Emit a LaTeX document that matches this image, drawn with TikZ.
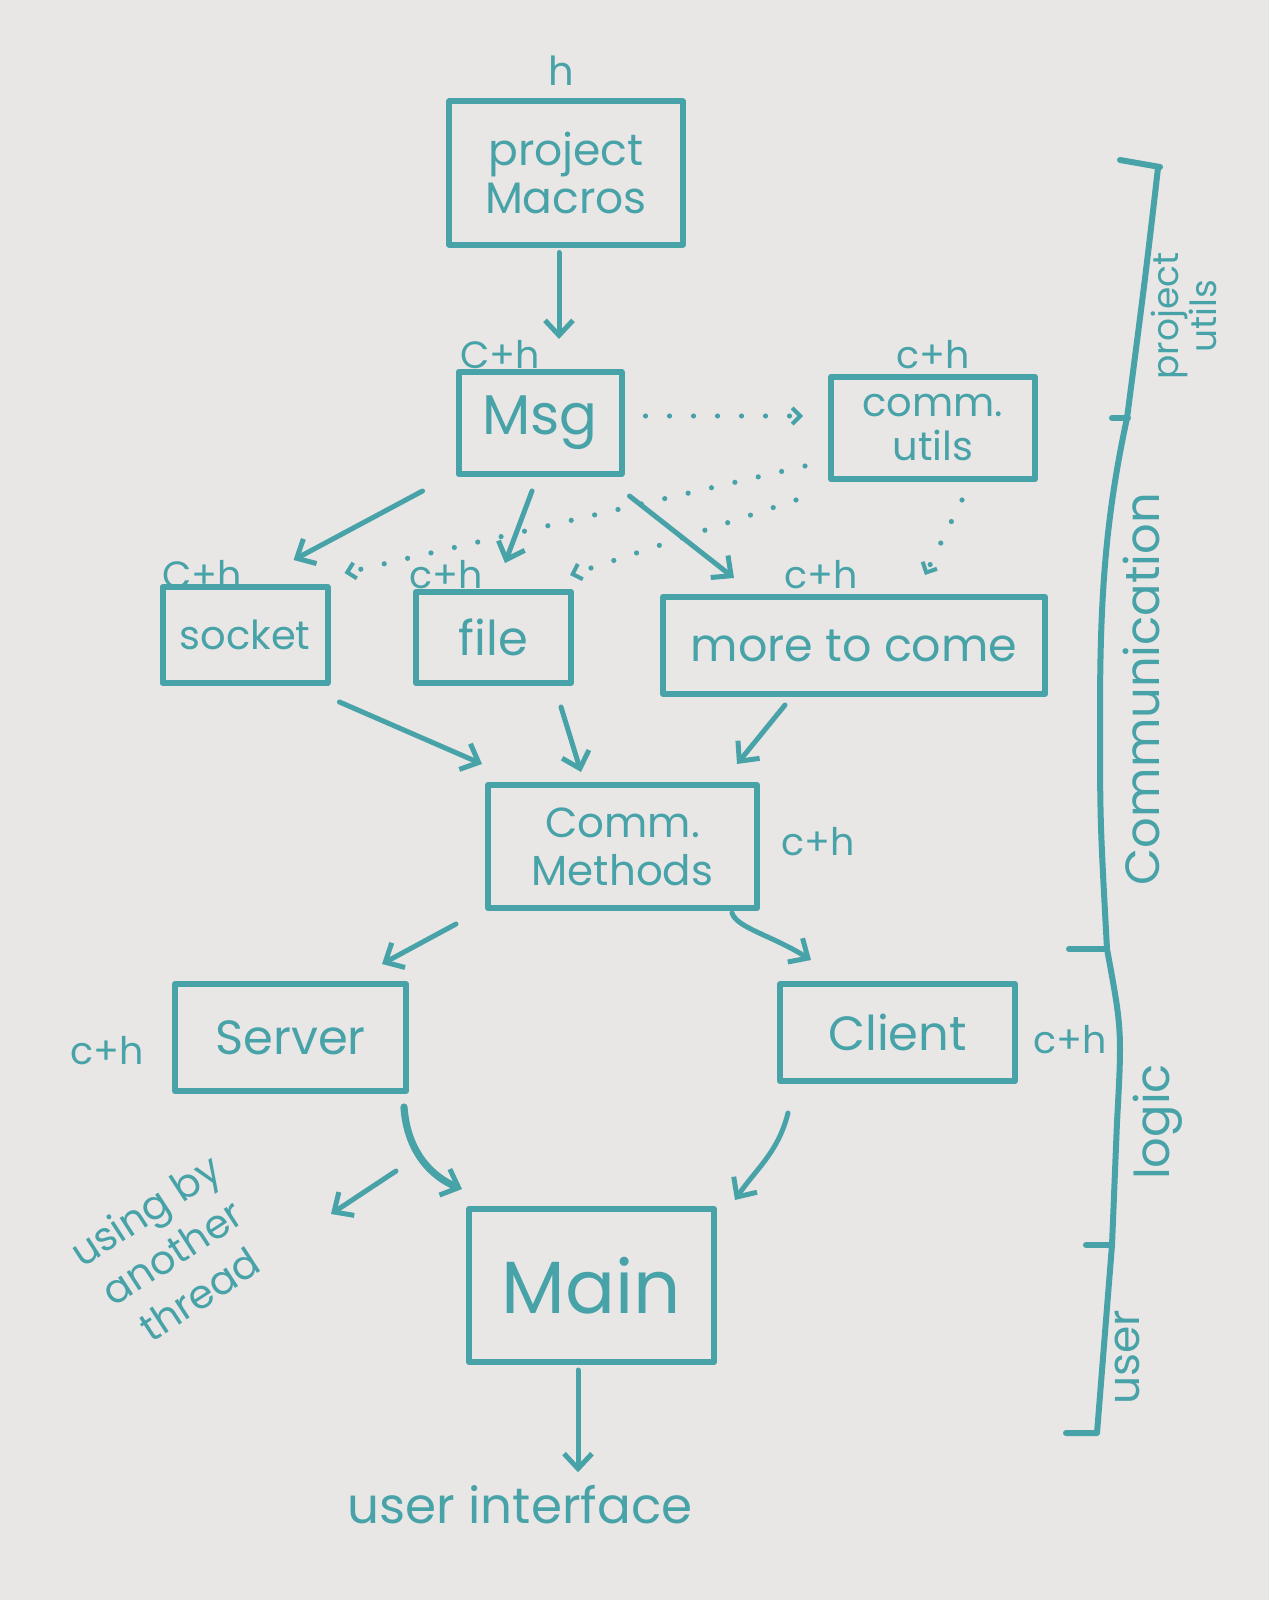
\documentclass[tikz,border=0pt]{standalone}
\usepackage{fontspec}
\setmainfont{Poppins}
\usetikzlibrary{arrows.meta}
\definecolor{ink}{RGB}{72,163,168}
\definecolor{paper}{RGB}{233,230,230}
\begin{document}
\begin{tikzpicture}[x=0.5pt,y=-0.5pt,
  box/.style={draw=ink, line width=3pt, text=ink, align=center, inner sep=0pt, line join=round, line cap=round},
  lbl/.style={text=ink, inner sep=0pt, font=\fontsize{19}{21}\selectfont},
  side/.style={text=ink, inner sep=0pt, rotate=90, align=center},
  arr/.style={draw=ink, line width=2.5pt, line cap=round, -{Straight Barb[length=7.5pt,width=14pt,line width=2.5pt]}},
  dots/.style={draw=ink, line width=2.6pt, line cap=round, dash pattern=on 0pt off 12pt, -{Straight Barb[length=4pt,width=8pt,line width=2pt]}},
]
\fill[paper] (0,0) rectangle (1269,1600);
\useasboundingbox (0,0) rectangle (1269,1600);

% boxes
\node[box, minimum width=117pt, minimum height=71.5pt, font=\fontsize{22}{24}\selectfont] (pm) at (566,173) {project\\Macros};
\node[box, minimum width=81.5pt, minimum height=51pt, font=\fontsize{28}{30}\selectfont] (msg) at (540,423) {Msg};
\node[box, minimum width=102pt, minimum height=51pt, font=\fontsize{20}{22}\selectfont] (cu) at (933,428) {comm.\\utils};
\node[box, minimum width=82.5pt, minimum height=48pt, font=\fontsize{20}{22}\selectfont] (socket) at (245,635) {socket};
\node[box, minimum width=77.5pt, minimum height=45.5pt, font=\fontsize{24}{26}\selectfont] (file) at (493.5,637.5) {file};
\node[box, minimum width=191pt, minimum height=48.5pt, font=\fontsize{23}{25}\selectfont] (mtc) at (854,645.5) {more to come};
\node[box, minimum width=134.5pt, minimum height=61.5pt, font=\fontsize{21}{24}\selectfont] (cm) at (622.5,846.5) {Comm.\\Methods};
\node[box, minimum width=115.5pt, minimum height=53.5pt, font=\fontsize{24}{26}\selectfont] (server) at (290.5,1037.5) {Server};
\node[box, minimum width=117.5pt, minimum height=48.5pt, font=\fontsize{24}{26}\selectfont] (client) at (897.5,1032.5) {Client};
\node[box, minimum width=122.5pt, minimum height=76.5pt, font=\fontsize{37}{39}\selectfont] (main) at (591.5,1285.5) {Main};

% small labels
\node[lbl, font=\fontsize{20}{22}\selectfont] (hpm) at (561,71) {h};
\node[lbl] (lmsg) at (500,355) {C+h};
\node[lbl] (lcu) at (933,355) {c+h};
\node[lbl] (lsocket) at (202,575) {C+h};
\node[lbl] (lfile) at (446,575) {c+h};
\node[lbl] (lmtc) at (821,575) {c+h};
\node[lbl] (lcm) at (818,842) {c+h};
\node[lbl] (lserver) at (107,1051) {c+h};
\node[lbl] (lclient) at (1070,1040) {c+h};
\node[text=ink, inner sep=0pt, rotate=33, align=center, font=\fontsize{20}{25}\selectfont] (thread) at (172,1252) {using by\\another\\thread};
\coordinate (thr) at (331,1214);
\node[text=ink, inner sep=0pt, font=\fontsize{25}{27}\selectfont] (ui) at (520,1505) {user interface};

% side bracket
\draw[ink, line width=3pt, line cap=round, line join=round]
  (1120,160) -- (1160,167)
  (1158,168) .. controls (1145,280) .. (1127,418)
  .. controls (1105,520) and (1100,600) .. (1100,714)
  .. controls (1100,820) .. (1107,949)
  .. controls (1122,1030) .. (1117,1122)
  -- (1112,1245) -- (1097,1433) -- (1066,1433);
\draw[ink, line width=3pt, line cap=round] (1112,418) -- (1128,418);
\draw[ink, line width=3pt, line cap=round] (1069,949) -- (1107,949);
\draw[ink, line width=3pt, line cap=round] (1086,1245) -- (1112,1245);
\node[side, font=\fontsize{18}{17}\selectfont] (sproj) at (1184,316) {project\\utils};
\node[side, font=\fontsize{24}{26}\selectfont] (scomm) at (1141,689) {Communication};
\node[side, font=\fontsize{24}{26}\selectfont] (slogic) at (1158,1122) {logic};
\node[side, font=\fontsize{22}{24}\selectfont] (suser) at (1127,1357) {user};

% solid connectors
\draw[arr] ([shift={(-7,5)}]pm.south) -- ([shift={(19,-30)}]msg.north);
\draw[arr] ([shift={(-33,14)}]msg.south west) -- ([shift={(-37,-24)}]socket.north east);
\draw[arr] ([shift={(-8,14)}]msg.south) -- ([shift={(11.5,-26)}]file.north);
\draw[arr] ([shift={(5,19)}]msg.south east) -- ([shift={(74,-16)}]mtc.north west);
\draw[arr] ([shift={(9,16)}]socket.south east) -- ([shift={(-3,-18)}]cm.north west);
\draw[arr] ([shift={(67.5,21)}]file.south) -- ([shift={(-41.5,-10)}]cm.north);
\draw[arr] ([shift={(-69,8)}]mtc.south) -- ([shift={(-23,-18)}]cm.north east);
\draw[arr] ([shift={(-29,13)}]cm.south west) -- ([shift={(-27,-17)}]server.north east);
\draw[arr] ([shift={(-28,2)}]cm.south east) .. controls +(5,15) and +(-40,-25) .. ([shift={(34,-21)}]client.north west);
\draw[arr, line width=3.6pt] ([shift={(-5,13)}]server.south east) .. controls +(3,45) and +(-30,-12) .. ([shift={(-4,-17)}]main.north west);
\draw[arr] ([shift={(11,29)}]client.south west) .. controls +(-10,40) and +(20,-30) .. ([shift={(18,-6)}]main.north east);
\draw[arr] ([shift={(-13,77)}]server.south east) -- (thr);
\draw[arr] ([shift={(-13.5,5)}]main.south) -- ([shift={(58,-13)}]ui.north);

% dotted connectors
\draw[dots] ([shift={(21,-7)}]msg.east) -- ([shift={(-25,-12)}]cu.west);
\draw[dots] ([shift={(-23,-16)}]cu.south west) -- ([shift={(14,-11)}]socket.north east);
\draw[dots] ([shift={(-32,18)}]cu.south west) -- ([shift={(-4,-14)}]file.north east);
\draw[dots] ([shift={(29,18)}]cu.south) -- ([shift={(71,-19)}]mtc.north);
\end{tikzpicture}
\end{document}
